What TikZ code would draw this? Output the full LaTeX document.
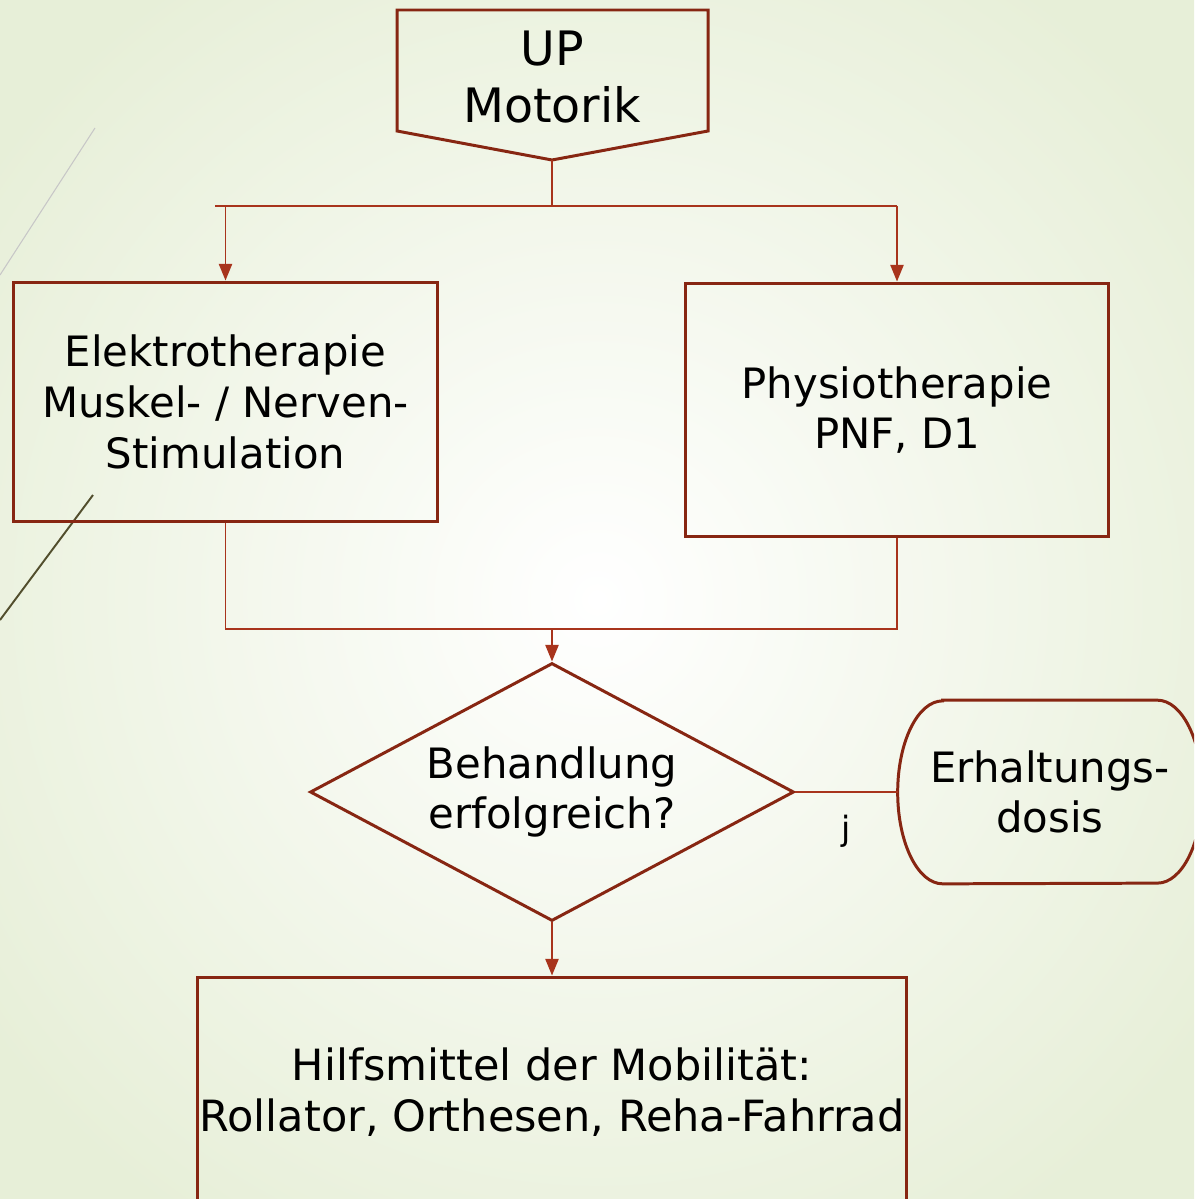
\documentclass[tikz,border=0pt]{standalone}
\usepackage{fontspec}
\setmainfont{DejaVu Sans}
\usetikzlibrary{shapes.geometric,arrows.meta}
\definecolor{boxred}{RGB}{135,38,18}
\definecolor{linered}{RGB}{168,52,28}
\definecolor{bggreen}{RGB}{231,239,216}
\begin{document}
\begin{tikzpicture}[x=0.02cm, y=0.02cm,
    procbox/.style={draw=boxred, line width=1.7pt, rectangle, inner sep=0pt,
        align=center, font=\fontsize{23.8}{28.8}\selectfont},
    decbox/.style={draw=boxred, line width=1.7pt, diamond, inner sep=0pt,
        shape aspect=1.88, align=center, font=\fontsize{23.8}{28.8}\selectfont},
    flowline/.style={draw=linered, line width=1.1pt},
    flowarrow/.style={flowline, -{Triangle[length=9.5pt,width=7.5pt]}}]
    \useasboundingbox (0,0) rectangle (1194,-1199);
    \clip (0,0) rectangle (1194,-1199);
    \shade[inner color=white, outer color=bggreen] (-150,150) rectangle (1344,-1349);
    % slide decoration
    \draw[black!22, line width=0.6pt] (95,-128) -- (0,-275);
    \draw[black!55!olive, line width=1.1pt] (93,-495) -- (0,-620);

    % start
    \coordinate (upNW) at (397,-10);
    \coordinate (upNE) at (708,-10);
    \coordinate (upSE) at (708,-131);
    \coordinate (upSW) at (397,-131);
    \coordinate (uptip) at (552,-160);
    \draw[boxred, line width=1.7pt] (upNW) -- (upNE) -- (upSE) -- (uptip) -- (upSW) -- cycle;
    \node[align=center, font=\fontsize{27}{32.5}\selectfont] (up) at (552,-77) {UP\\Motorik};

    % treatments
    \node[procbox, minimum width=8.5cm, minimum height=4.8cm] (elektro) at (225.5,-402)
        {Elektrotherapie\\Muskel- / Nerven-\\Stimulation};
    \node[procbox, minimum width=8.48cm, minimum height=5.08cm] (physio) at (897,-410)
        {Physiotherapie\\PNF, D1};

    % decision
    \node[decbox, minimum width=9.68cm, minimum height=5.16cm] (check) at (552,-792)
        {Behandlung\\erfolgreich?};
    \node[inner sep=0pt, minimum width=6.08cm, minimum height=3.66cm, align=center,
        font=\fontsize{23.8}{28.8}\selectfont] (dosis) at (1050,-792)
        {Erhaltungs-\\dosis};
    \draw[boxred, line width=1.7pt] ([xshift=0.9cm]dosis.north west)
        -- ([xshift=-0.9cm]dosis.north east)
        arc[start angle=90, end angle=-90, x radius=0.9cm, y radius=1.83cm]
        -- ([xshift=0.9cm]dosis.south west)
        arc[start angle=270, end angle=90, x radius=0.9cm, y radius=1.83cm] -- cycle;

    % aids
    \node[procbox, minimum width=14.2cm, minimum height=4.6cm,
        font=\fontsize{24.5}{29}\selectfont] (hilfs) at (552,-1092)
        {Hilfsmittel der Mobilität:\\Rollator, Orthesen, Reha-Fahrrad};

    % connectors
    \coordinate (split) at (552,-206);
    \coordinate (splitL) at (215,-206);
    \coordinate (splitR) at (897,-206);
    \coordinate (join) at (552,-629);
    \draw[flowline] (uptip) -- (split);
    \draw[flowline] (splitL) -- (splitR);
    \draw[flowarrow] (splitL -| elektro) -- (elektro.north);
    \draw[flowarrow] (splitR) -- (physio.north);
    \draw[flowline] (elektro.south) |- (join -| physio) -- (physio.south);
    \draw[flowarrow] (join) -- (check.north);
    \draw[flowline] (check.east) -- (dosis.west)
        node[midway, below=9pt, font=\fontsize{19}{22}\selectfont] (ja) {j};
    \draw[flowarrow] (check.south) -- (hilfs.north);
\end{tikzpicture}
\end{document}
